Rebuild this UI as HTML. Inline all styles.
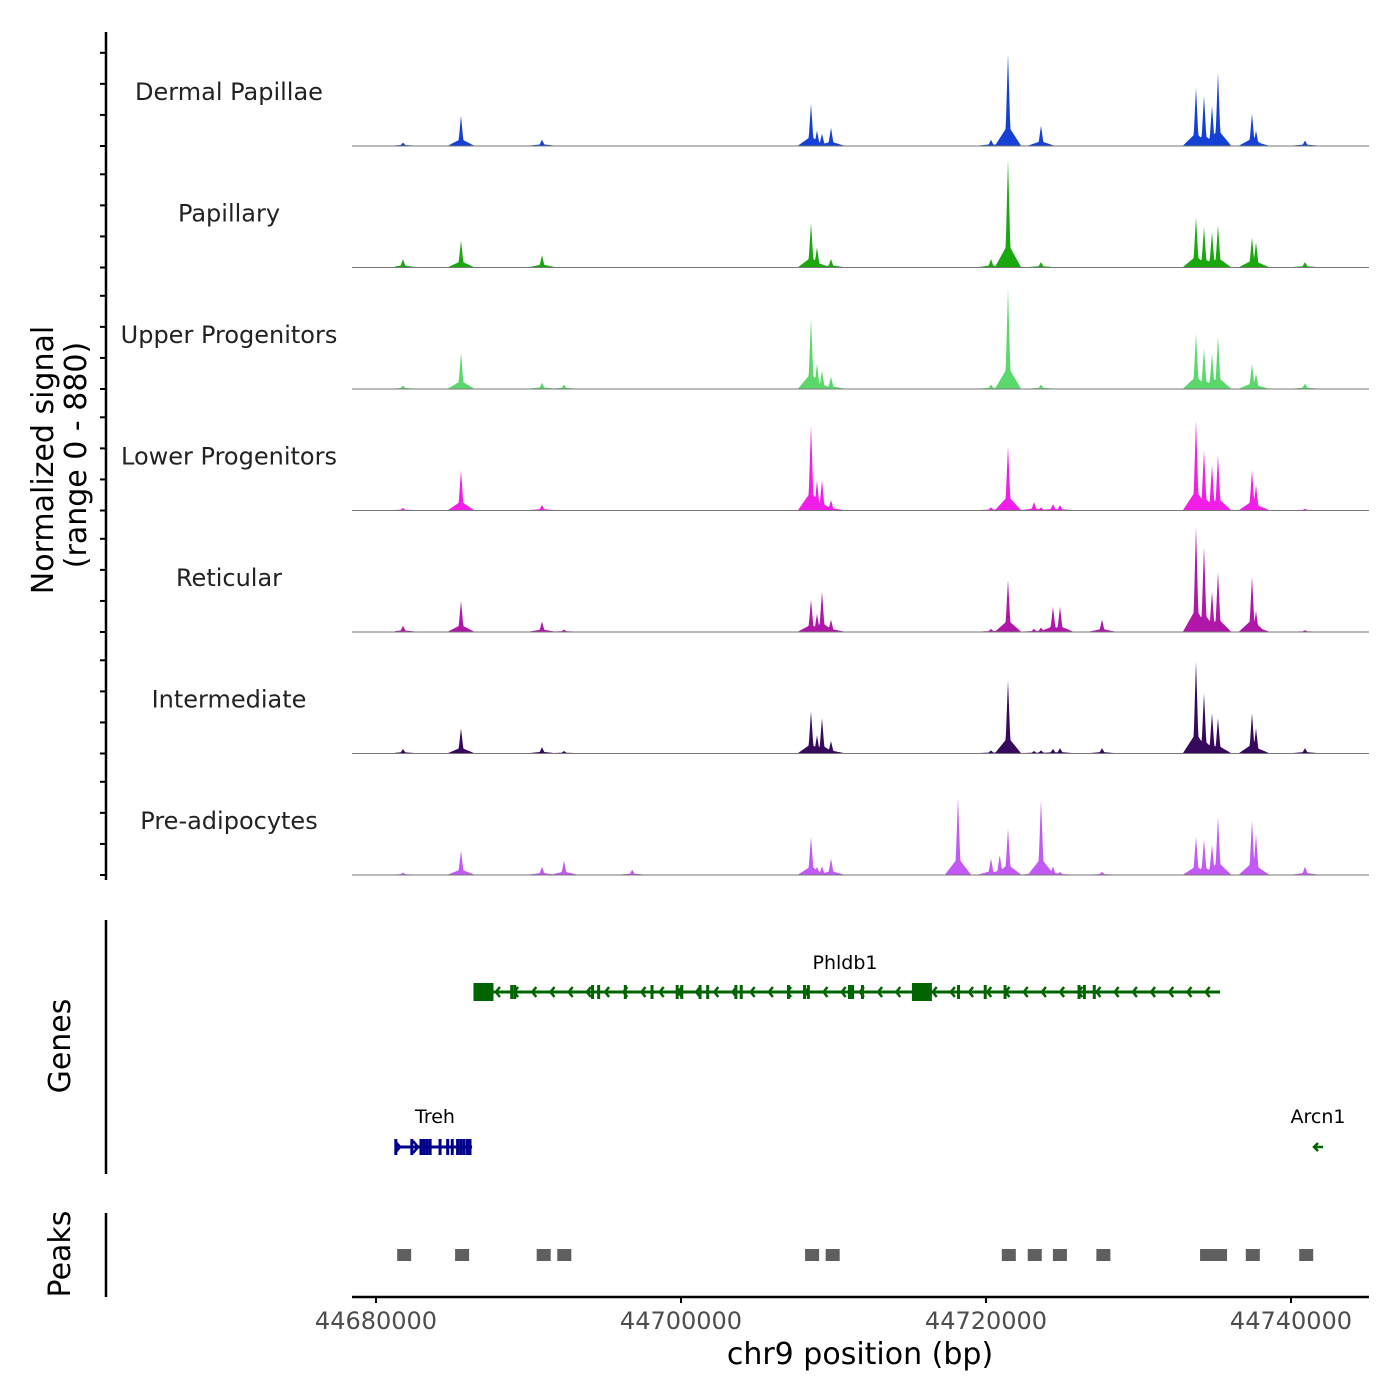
<!DOCTYPE html>
<html><head><meta charset="utf-8"><style>
body{margin:0;background:#fff;}
svg{display:block;font-family:"DejaVu Sans","Liberation Sans",sans-serif;}
</style></head><body>
<svg id="c" width="1400" height="1400" viewBox="0 0 1400 1400"></svg>
<script>
const trackNames=["Dermal Papillae","Papillary","Upper Progenitors","Lower Progenitors","Reticular","Intermediate","Pre-adipocytes"];
const trackColors=["#1540d6","#1aa80f","#5ad86c","#f01ee6","#b016a8","#36095c","#c258f5"];
const peakPos=[44681770,44685574,44690885,44692328,44696800,44708525,44708918,44709246,44709836,44718164,44720328,44720900,44721443,44723148,44723607,44724393,44724852,44727607,44733770,44734295,44734820,44735213,44737443,44737705,44740918];
// signal values (0-880) per track at peakPos
const sigDermal=[22,217,43,0,0,304,109,87,130,0,43,20,666,0,145,0,0,0,420,362,290,528,232,109,36];
const sigPapillary=[58,195,87,0,0,318,145,0,58,0,58,40,782,0,36,0,0,0,362,290,253,304,217,181,36];
const sigUpper=[22,260,43,29,0,507,181,130,87,0,29,30,724,0,29,0,0,0,398,290,253,376,181,109,36];
const sigLower=[15,290,36,0,0,615,217,217,72,0,20,30,463,58,20,43,36,0,652,434,326,398,290,181,10];
const sigReticular=[43,224,72,15,0,232,130,290,87,0,20,30,376,20,30,181,181,87,760,615,290,434,398,150,10];
const sigIntermediate=[29,181,43,15,0,304,130,253,87,0,20,30,528,15,20,30,36,36,666,434,290,253,290,181,36];
const sigPreadip=[15,174,58,101,36,275,58,60,116,557,116,145,333,40,543,58,20,20,275,253,217,420,391,290,58];
const signals=[sigDermal,sigPapillary,sigUpper,sigLower,sigReticular,sigIntermediate,sigPreadip];
const peakStarts=[44681650,44685450,44690800,44692150,44708400,44709750,44721300,44723000,44724650,44727500,44734300,44735150,44737300,44740800];
const xTicks=[44680000,44700000,44720000,44740000];
const phldb1Exons=[44686800,44688900,44689100,44694200,44694600,44696350,44698100,44699750,44700050,44701250,44701750,44703600,44703950,44707050,44708100,44708350,44711050,44711250,44711900,44715550,44718200,44719950,44721250,44726100,44726450,44727100];
const phldb1Big=[44686850,44715600];
const trehExons=[44681300,44682350,44682950,44683150,44683350,44683550,44684200,44684700,44685000,44685350,44685550,44685750];
const NS="http://www.w3.org/2000/svg";
const svg=document.getElementById('c');
function el(t,a,p){const e=document.createElementNS(NS,t);for(const k in a)e.setAttribute(k,a[k]);(p||svg).appendChild(e);return e;}
const X=bp=>376+(bp-44680000)*0.01525;
const L=352,R=1369,trackH=121.5,firstBase=146;
const Y=(v,b)=>b-v*trackH/880;
let a=el('line',{x1:106,y1:32,x2:106,y2:880,stroke:'#000','stroke-width':2.5});

for(let t=0;t<7;t++){const b=firstBase+t*trackH;
 for(const v of [0,225,450,675]){const tk=el('line',{x1:100,x2:106,y1:Y(v,b),y2:Y(v,b),stroke:'#000','stroke-width':2});
 }}
let t1=el('text',{x:0,y:0,'font-size':30,'text-anchor':'middle',transform:'translate(53,460) rotate(-90)',fill:'#000'});t1.textContent='Normalized signal';

let t2=el('text',{x:0,y:0,'font-size':30,'text-anchor':'middle',transform:'translate(86,455) rotate(-90)',fill:'#000'});t2.textContent='(range 0 - 880)';

for(let t=0;t<7;t++){
 const b=firstBase+t*trackH,s=signals[t];
 const lb=el('text',{x:229,y:b-46,'font-size':24,'text-anchor':'middle',fill:'#222'});lb.textContent=trackNames[t];
 
 let d='M'+X(44681300)+','+b;
 for(let px=Math.floor(X(44681300));px<=Math.ceil(X(44742300));px+=0.5){
  let v=0;
  for(let i=0;i<peakPos.length;i++){const dx=Math.abs(px-X(peakPos[i]));
   v=Math.max(v,s[i]*Math.max(0,1-dx/2.8),s[i]*0.22*Math.max(0,1-dx/13));}
  v+=s[0]>0?3:0;
  d+=' L'+px+','+Y(v,b).toFixed(2);}
 d+=' L'+X(44742300)+','+b+' Z';
 const p=el('path',{d:d,fill:trackColors[t]});
 
 const bl=el('line',{x1:L,x2:R,y1:b,y2:b,stroke:'#777','stroke-width':1});
 
}
const ga=el('line',{x1:106,x2:106,y1:920,y2:1174,stroke:'#000','stroke-width':2.5});

const gt=el('text',{x:0,y:0,'font-size':30,'text-anchor':'middle',transform:'translate(70,1046) rotate(-90)'});gt.textContent='Genes';

const G='#006400',B='#00008b';
const gl=el('line',{x1:X(44686550),x2:X(44735350),y1:992,y2:992,stroke:G,'stroke-width':3});

for(let x=X(44686550)+20;x<X(44735350)-4;x+=18.2){const c=el('path',{d:`M${x+4},987 L${x},992 L${x+4},997`,stroke:G,'stroke-width':2.5,fill:'none'});
 }
for(const e of phldb1Exons){const r=el('rect',{x:X(e)-1.5,y:985,width:3,height:14,fill:G});}
for(const e of phldb1Big){const r=el('rect',{x:X(e)-7,y:983,width:20,height:18,fill:G});}
const pl=el('text',{x:845,y:969,'font-size':19,'text-anchor':'middle'});pl.textContent='Phldb1';
const tl=el('line',{x1:X(44681250),x2:X(44686300),y1:1147,y2:1147,stroke:B,'stroke-width':3});

for(const x of [X(44681250)+4,X(44682300)+6]){const c=el('path',{d:`M${x-4},1141 L${x+1},1147 L${x-4},1153`,stroke:B,'stroke-width':2.5,fill:'none'});}
for(const e of trehExons){const r=el('rect',{x:X(e)-1.5,y:1139,width:3,height:16,fill:B});}
const tr=el('rect',{x:X(44686000)-2,y:1139,width:6,height:16,fill:B});
const tt=el('text',{x:435,y:1123,'font-size':19,'text-anchor':'middle'});tt.textContent='Treh';
const ar=el('path',{d:'M1323,1147 L1314,1147 M1318,1143 L1314,1147 L1318,1151',stroke:G,'stroke-width':2.5,fill:'none'});
const at=el('text',{x:1318,y:1123,'font-size':19,'text-anchor':'middle'});at.textContent='Arcn1';
const pa=el('line',{x1:106,x2:106,y1:1213,y2:1297,stroke:'#000','stroke-width':2.5});
const ptx=el('text',{x:0,y:0,'font-size':30,'text-anchor':'middle',transform:'translate(70,1254) rotate(-90)'});ptx.textContent='Peaks';
for(const s of peakStarts){const r=el('rect',{x:X(s)-4,y:1249,width:14,height:12,fill:'#5f5f5f'});}
const xa=el('line',{x1:L,x2:R,y1:1297,y2:1297,stroke:'#000','stroke-width':2.5});
for(const v of xTicks){const tk=el('line',{x1:X(v),x2:X(v),y1:1297,y2:1303,stroke:'#000','stroke-width':2});
 const tx=el('text',{x:X(v),y:1329,'font-size':24,'text-anchor':'middle',fill:'#4d4d4d'});tx.textContent=v;}
const xt=el('text',{x:860,y:1364,'font-size':30,'text-anchor':'middle'});xt.textContent='chr9 position (bp)';
</script>
</body></html>
